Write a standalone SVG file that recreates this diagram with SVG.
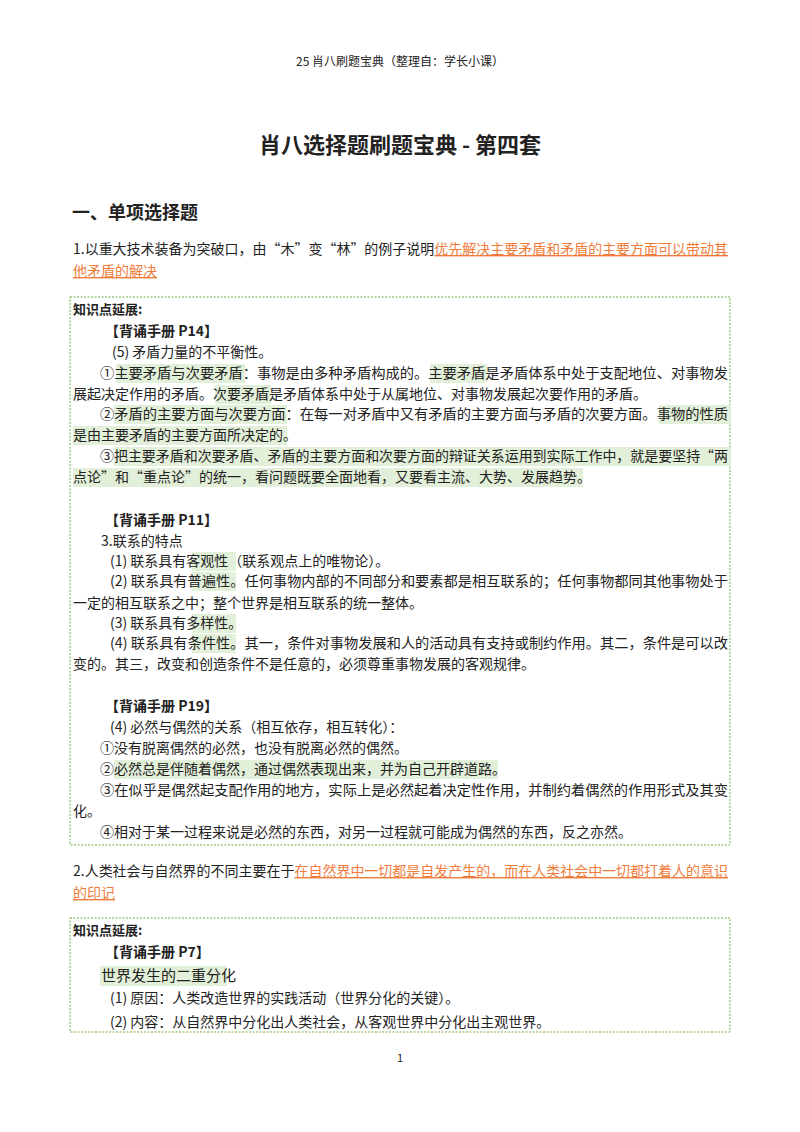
<svg xmlns="http://www.w3.org/2000/svg" width="800" height="1132" viewBox="0 0 800 1132">
<style>
text{font-family:"Noto Sans CJK SC","Noto Sans",sans-serif;font-size:14px;fill:#222}
.h{fill:#e2efd9}
.o{fill:#f07c3c;text-decoration:underline}
.b{font-weight:bold}
.box{fill:none;stroke:#70ad47;stroke-width:1;stroke-dasharray:2 1.5}
</style>
<rect width="800" height="1132" fill="#fff"/>
<text x="400" y="66" text-anchor="middle" style="font-size:12px">25 肖八刷题宝典（整理自：学长小课）</text>
<text x="400" y="153" text-anchor="middle" class="b" style="font-size:22px">肖八选择题刷题宝典 - 第四套</text>
<text x="72" y="219" class="b" style="font-size:18px">一、单项选择题</text>

<g id="q1">
<text x="73" y="254" textLength="655" lengthAdjust="spacingAndGlyphs">1.以重大技术装备为突破口，由“木”变“林”的例子说明<tspan class="o">优先解决主要矛盾和矛盾的主要方面可以带动其</tspan></text>
<text x="73" y="276" class="o">他矛盾的解决</text>
</g>

<g id="box1">
<rect class="box" x="70" y="297" width="660" height="548"/>
<g id="hl1">
<rect class="h" x="116" y="364" width="129" height="19"/>
<rect class="h" x="430" y="364" width="57" height="19"/>
<rect class="h" x="215" y="385" width="56" height="19"/>
<rect class="h" x="114" y="405" width="173" height="19"/>
<rect class="h" x="659" y="405" width="72" height="19"/>
<rect class="h" x="73" y="426" width="214" height="19"/>
<rect class="h" x="114" y="447" width="617" height="19"/>
<rect class="h" x="73" y="468" width="510" height="19"/>
<rect class="h" x="192" y="552" width="44" height="19"/>
<rect class="h" x="192" y="572" width="44" height="19"/>
<rect class="h" x="192" y="614" width="44" height="19"/>
<rect class="h" x="192" y="634" width="44" height="19"/>
<rect class="h" x="114" y="760" width="384" height="19"/>
</g>
<text x="73" y="314" class="b" style="font-size:13px">知识点延展:</text>
<text x="105" y="336" class="b">【背诵手册 P14】</text>
<text x="112" y="357">(5) 矛盾力量的不平衡性。</text>
<text x="100" y="378" textLength="628" lengthAdjust="spacingAndGlyphs">①主要矛盾与次要矛盾：事物是由多种矛盾构成的。主要矛盾是矛盾体系中处于支配地位、对事物发</text>
<text x="73" y="399">展起决定作用的矛盾。次要矛盾是矛盾体系中处于从属地位、对事物发展起次要作用的矛盾。</text>
<text x="100" y="419" textLength="628" lengthAdjust="spacingAndGlyphs">②矛盾的主要方面与次要方面：在每一对矛盾中又有矛盾的主要方面与矛盾的次要方面。事物的性质</text>
<text x="73" y="440">是由主要矛盾的主要方面所决定的。</text>
<text x="100" y="461" textLength="628" lengthAdjust="spacingAndGlyphs">③把主要矛盾和次要矛盾、矛盾的主要方面和次要方面的辩证关系运用到实际工作中，就是要坚持“两</text>
<text x="73" y="482">点论”和“重点论”的统一，看问题既要全面地看，又要看主流、大势、发展趋势。</text>

<text x="105" y="525" class="b">【背诵手册 P11】</text>
<text x="101" y="546">3.联系的特点</text>
<text x="110" y="566">(1) 联系具有客观性（联系观点上的唯物论）。</text>
<text x="110" y="586" textLength="618" lengthAdjust="spacingAndGlyphs">(2) 联系具有普遍性。任何事物内部的不同部分和要素都是相互联系的；任何事物都同其他事物处于</text>
<text x="73" y="608">一定的相互联系之中；整个世界是相互联系的统一整体。</text>
<text x="110" y="628">(3) 联系具有多样性。</text>
<text x="110" y="648" textLength="618" lengthAdjust="spacingAndGlyphs">(4) 联系具有条件性。其一，条件对事物发展和人的活动具有支持或制约作用。其二，条件是可以改</text>
<text x="73" y="669">变的。其三，改变和创造条件不是任意的，必须尊重事物发展的客观规律。</text>

<text x="105" y="711" class="b">【背诵手册 P19】</text>
<text x="110" y="732">(4) 必然与偶然的关系（相互依存，相互转化）：</text>
<text x="100" y="753">①没有脱离偶然的必然，也没有脱离必然的偶然。</text>
<text x="100" y="774">②必然总是伴随着偶然，通过偶然表现出来，并为自己开辟道路。</text>
<text x="100" y="795" textLength="628" lengthAdjust="spacingAndGlyphs">③在似乎是偶然起支配作用的地方，实际上是必然起着决定性作用，并制约着偶然的作用形式及其变</text>
<text x="73" y="816">化。</text>
<text x="100" y="837">④相对于某一过程来说是必然的东西，对另一过程就可能成为偶然的东西，反之亦然。</text>
</g>

<g id="q2">
<text x="73" y="876" textLength="655" lengthAdjust="spacingAndGlyphs">2.人类社会与自然界的不同主要在于<tspan class="o">在自然界中一切都是自发产生的，而在人类社会中一切都打着人的意识</tspan></text>
<text x="73" y="898" class="o">的印记</text>
</g>

<g id="box2">
<rect class="box" x="70" y="918" width="660" height="114"/>
<rect class="h" x="100" y="966" width="127" height="20"/>
<text x="73" y="935" class="b" style="font-size:13px">知识点延展:</text>
<text x="105" y="957" class="b">【背诵手册 P7】</text>
<text x="101" y="981" style="font-size:15px">世界发生的二重分化</text>
<text x="110" y="1003">(1) 原因：人类改造世界的实践活动（世界分化的关键）。</text>
<text x="110" y="1027">(2) 内容：从自然界中分化出人类社会，从客观世界中分化出主观世界。</text>
</g>
<text x="400" y="1062" text-anchor="middle" style="font-size:11px">1</text>
</svg>
